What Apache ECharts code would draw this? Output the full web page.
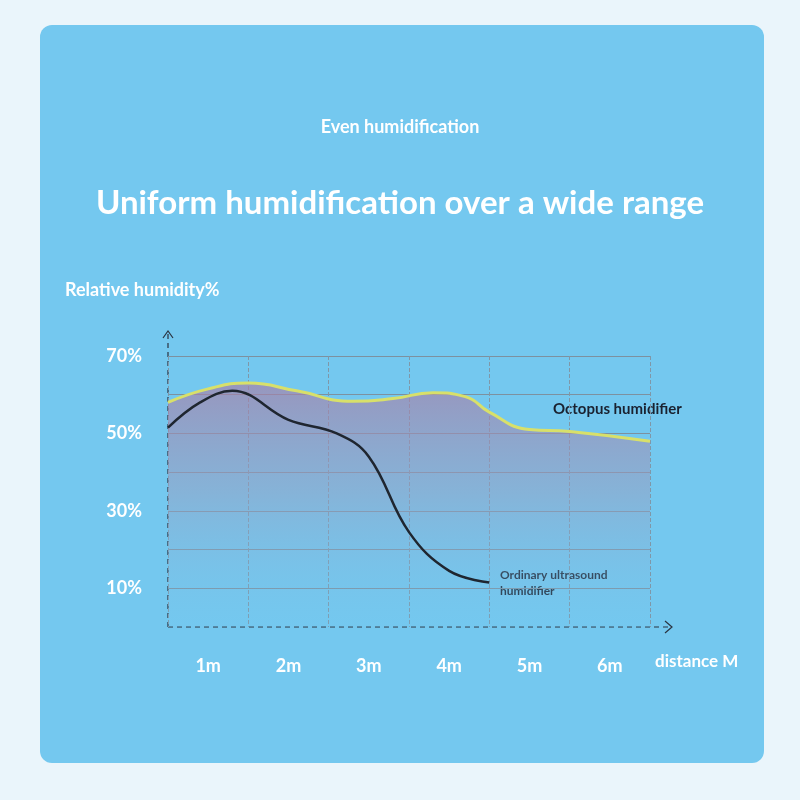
<!DOCTYPE html>
<html>
<head>
<meta charset="utf-8">
<script src="https://cdn.jsdelivr.net/npm/echarts@6/dist/echarts.min.js"></script>
<style>
  html, body { margin: 0; padding: 0; background: #eaf5fb; }
  #main { width: 800px; height: 800px; }
</style>
</head>
<body>
<div id="main"></div>
<script>
// categories and values
var distances = ["1m", "2m", "3m", "4m", "5m", "6m"];
var humidityTicks = [10, 30, 50, 70];
// [distance in m from axis origin, humidity %]
var octopus = [[0, 58], [0.5, 61.5], [1.0, 63], [1.6, 61], [2.3, 58.3], [2.8, 59], [3.3, 60.5], [3.7, 59.5], [4.0, 55.5], [4.5, 51], [5.0, 50.5], [6.0, 48]];
var ordinary = [[0, 51.5], [0.4, 58], [0.8, 61], [1.5, 53.5], [2.1, 50], [2.5, 44], [3.0, 24.5], [3.5, 14.5], [4.0, 11.5]];

var chart = echarts.init(document.getElementById("main"));

var white = "#ffffff";
var textFont = "Lato, 'Noto Sans', sans-serif";

chart.setOption({
  backgroundColor: "#eaf5fb",
  animation: false,
  grid: { left: 168, right: 150, top: 356, bottom: 173 },
  xAxis: [
    {
      type: "category",
      data: distances,
      boundaryGap: true,
      axisLine: { show: false },
      axisTick: { show: false },
      axisLabel: { color: white, fontSize: 18, fontWeight: "bold", margin: 30, fontFamily: textFont },
      splitLine: { show: true, lineStyle: { color: "#7f97a8", type: "dashed", width: 1 } }
    },
    { type: "value", min: 0, max: 6, show: false }
  ],
  yAxis: {
    type: "value",
    min: 0, max: 70, interval: 10,
    axisLine: { show: false },
    axisTick: { show: false },
    axisLabel: {
      color: white, fontSize: 18, fontWeight: "bold", margin: 26, fontFamily: textFont,
      formatter: function (v) { return humidityTicks.indexOf(v) >= 0 ? v + "%" : ""; }
    },
    splitLine: {
      lineStyle: { color: "#7d919f", width: 1 },
      showMinLine: false
    }
  },
  series: [
    {
      name: "Octopus humidifier",
      type: "line",
      xAxisIndex: 1,
      data: octopus,
      smooth: 0.5,
      symbol: "none",
      lineStyle: { color: "#d8e06a", width: 3 },
      areaStyle: {
        color: new echarts.graphic.LinearGradient(0, 0, 0, 1, [
          { offset: 0, color: "rgba(170,125,165,0.95)" },
          { offset: 0.45, color: "rgba(150,160,195,0.75)" },
          { offset: 1, color: "rgba(116,199,238,0.2)" }
        ])
      },
      z: 2
    },
    {
      name: "Ordinary ultrasound humidifier",
      type: "line",
      xAxisIndex: 1,
      data: ordinary,
      smooth: 0.4,
      symbol: "none",
      lineStyle: { color: "#1f2630", width: 2.5 },
      z: 3
    }
  ],
  graphic: [
    { type: "rect", z: -10, shape: { x: 40, y: 25, width: 724, height: 738, r: 12 }, style: { fill: "#74c8ef" } },
    { type: "text", left: "center", top: 118, style: { text: "Even humidification", fill: white, font: "bold 18px " + textFont } },
    { type: "text", left: "center", top: 187, style: { text: "Uniform humidification over a wide range", fill: white, font: "bold 33px " + textFont } },
    { type: "text", left: 65, top: 281, style: { text: "Relative humidity%", fill: white, font: "bold 18px " + textFont } },
    { type: "text", left: 655, top: 653, style: { text: "distance M", fill: white, font: "bold 17px " + textFont } },
    { type: "text", left: 553, top: 402, style: { text: "Octopus humidifier", fill: "#1a2230", font: "bold 15px " + textFont } },
    { type: "text", left: 500, top: 567, style: { text: "Ordinary ultrasound\nhumidifier", fill: "#1a2230", font: "bold 12px " + textFont, lineHeight: 16 } },
    // dashed axes with arrow heads
    { type: "polyline", shape: { points: [[168, 627], [168, 333]] }, style: { stroke: "#2a3340", lineWidth: 1.2, lineDash: [5, 4] } },
    { type: "polyline", shape: { points: [[163, 338], [168, 331], [173, 338]] }, style: { stroke: "#2a3340", fill: null, lineWidth: 1.2 } },
    { type: "polyline", shape: { points: [[168, 627], [670, 627]] }, style: { stroke: "#2a3340", lineWidth: 1.2, lineDash: [5, 4] } },
    { type: "polyline", shape: { points: [[665, 621], [672, 627], [665, 633]] }, style: { stroke: "#2a3340", fill: null, lineWidth: 1.2 } }
  ]
});
</script>
</body>
</html>
